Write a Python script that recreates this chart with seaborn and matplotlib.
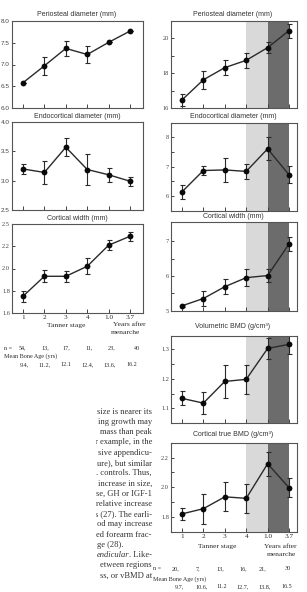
import matplotlib
matplotlib.use("Agg")
import matplotlib.pyplot as plt
from matplotlib.transforms import Bbox, TransformedBbox
import numpy as np
import seaborn as sns

# ---- data
stage = [0, 1, 2, 3, 4, 5]
stage_labels = ["1", "2", "3", "4", "1.0", "3.7"]

# left column (first study)
l_peri = [6.58, 6.97, 7.37, 7.23, 7.51, 7.77]
l_peri_se = [0.0, 0.20, 0.18, 0.19, 0.0, 0.0]
l_endo = [3.20, 3.14, 3.57, 3.19, 3.10, 2.99]
l_endo_se = [0.08, 0.20, 0.15, 0.26, 0.12, 0.08]
l_cort = [1.75, 1.93, 1.93, 2.02, 2.21, 2.29]
l_cort_se = [0.05, 0.055, 0.05, 0.07, 0.045, 0.04]
l_n = [54, 13, 17, 11, 23, 40]
l_age = ["9.4,", "11.2,", "12.1", "12.4,", "13.6,", "16.2"]

# right column (second study)
r_peri = [16.46, 17.62, 18.32, 18.74, 19.47, 20.45]
r_peri_se = [0.33, 0.50, 0.42, 0.44, 0.30, 0.40]
r_endo = [6.14, 6.87, 6.89, 6.84, 7.61, 6.72]
r_endo_se = [0.24, 0.17, 0.42, 0.25, 0.39, 0.29]
r_cort = [5.14, 5.35, 5.69, 5.95, 6.01, 6.92]
r_cort_se = [0.03, 0.22, 0.21, 0.25, 0.18, 0.20]
r_vbmd = [1.134, 1.118, 1.191, 1.198, 1.302, 1.316]
r_vbmd_se = [0.024, 0.036, 0.055, 0.048, 0.035, 0.033]
r_tbmd = [1.820, 1.855, 1.935, 1.925, 2.158, 1.996]
r_tbmd_se = [0.04, 0.10, 0.097, 0.097, 0.08, 0.065]
r_n = [20, 7, 13, 16, 21, 30]
r_age = ["9.7,", "10.6,", "11.2", "12.7,", "13.8,", "16.5"]

paragraph = ["size is nearer its", "ing growth may", "mass than peak",
             "r example, in the", "sive appendicu-", "ure), but similar",
             ". controls. Thus,", "increase in size,", "se, GH or IGF-1",
             "relative increase", "s (27). The earli-", "od may increase",
             "ed forearm frac-", "ge (28).", "endicular. Like-",
             "etween regions", "ss, or vBMD at"]

W, H = 307, 592
sns.set_style("ticks")
plt.rcParams['font.family'] = ['Liberation Sans', 'DejaVu Sans']
INK = "#2a2a2a"

fig = plt.figure(figsize=(W / 100, H / 100), dpi=100)


def rect(x0, y0, x1, y1):
    return [x0 / W, 1 - y1 / H, (x1 - x0) / W, (y1 - y0) / H]


def ftext(x, y, s, **kw):
    kw.setdefault("va", "center")
    kw.setdefault("color", INK)
    return fig.text(x / W, 1 - y / H, s, **kw)


def panel(box, y, se, ylim, major, labels, minor=None, xlim=(-0.51, 5.6),
          shade=False, ylab_family="Liberation Sans"):
    ax = fig.add_axes(rect(*box))
    if shade:
        ax.axvspan(3, 4, color="#d9d9d9", lw=0, zorder=0)
        ax.axvspan(4, 5, color="#6c6c6c", lw=0, zorder=0)
    ax.errorbar(stage, y, yerr=se, fmt="none", ecolor=INK, elinewidth=0.8,
                capsize=1.8, capthick=0.8, zorder=2)
    sns.lineplot(x=stage, y=y, ax=ax, color=INK, lw=1.0, marker="o",
                 markersize=4.2, markerfacecolor="#0a0a0a",
                 markeredgewidth=0, zorder=3)
    ax.set_xlim(*xlim)
    ax.set_ylim(*ylim)
    ax.set_xticks(stage)
    ax.set_xticklabels([])
    ax.set_yticks(major)
    ax.set_yticklabels(labels, fontsize=4.6, color="#444",
                       family=ylab_family)
    if minor is not None:
        ax.set_yticks(minor, minor=True)
    ax.tick_params(axis="both", which="both", direction="in", length=2.5,
                   width=0.7, color="#444", pad=1.5)
    ax.tick_params(axis="x", length=3)
    for sp in ax.spines.values():
        sp.set_color("#555")
        sp.set_linewidth(0.8)
    ax.set_xlabel("")
    ax.set_ylabel("")
    return ax


# ---- left column
panel((12, 21, 143, 108), l_peri, l_peri_se, (6.0, 8.0),
      [6.0, 6.5, 7.0, 7.5, 8.0], ["6.0", "6.5", "7.0", "7.5", "8.0"])
panel((12, 122, 143, 210), l_endo, l_endo_se, (2.5, 4.0),
      [2.5, 3.0, 3.5, 4.0], ["2.5", "3.0", "3.5", "4.0"])
axl3 = panel((12, 224, 143, 313), l_cort, l_cort_se, (1.6, 2.4),
             [1.6, 1.8, 2.0, 2.2, 2.4], ["1.6", "1.8", "2.0", "2.2", "2.5"],
             ylab_family="Liberation Serif")
axl3.set_xticklabels(stage_labels, fontsize=5.2, family="Liberation Serif",
                     color=INK)

# ---- right column
rx = (-0.51, 5.37)
panel((171, 21, 297, 108), r_peri, r_peri_se, (16, 21), [16, 18, 20],
      ["16", "18", "20"], minor=[17, 19], xlim=rx, shade=True,
      ylab_family="Liberation Serif")
panel((171, 122.7, 297, 210.7), r_endo, r_endo_se, (5.5, 8.5), [6, 7, 8],
      ["6", "7", "8"], minor=[6.5, 7.5], xlim=rx, shade=True,
      ylab_family="Liberation Serif")
panel((171, 222, 297, 310.7), r_cort, r_cort_se, (5, 7.55), [5, 6, 7],
      ["5", "6", "7"], minor=[5.5, 6.5], xlim=rx, shade=True,
      ylab_family="Liberation Serif")
panel((171, 335.7, 297, 423.3), r_vbmd, r_vbmd_se, (1.05, 1.345),
      [1.1, 1.2, 1.3], ["1.1", "1.2", "1.3"], minor=[1.15, 1.25], xlim=rx,
      shade=True, ylab_family="Liberation Serif")
axr5 = panel((171, 442.7, 297, 531.7), r_tbmd, r_tbmd_se, (1.7, 2.3),
             [1.8, 2.0, 2.2], ["1.8", "2.0", "2.2"], minor=[1.9, 2.1],
             xlim=rx, shade=True, ylab_family="Liberation Serif")
axr5.set_xticklabels(stage_labels, fontsize=5.2, family="Liberation Serif",
                     color=INK)

# ---- panel titles
tkw = dict(ha="center", fontsize=5.0, color="#333")
ftext(77, 15, "Periosteal diameter (mm)", **tkw)
ftext(77, 117, "Endocortical diameter (mm)", **tkw)
ftext(77, 218, "Cortical width (mm)", **tkw)
ftext(233, 15, "Periosteal diameter (mm)", **tkw)
ftext(233, 116, "Endocortical diameter (mm)", **tkw)
ftext(233, 217, "Cortical width (mm)", **tkw)
ftext(233, 327, "Volumetric BMD (g/cm\u00b3)", **tkw)
ftext(233, 435, "Cortical true BMD (g/cm\u00b3)", **tkw)

# ---- x axis captions and table rows
skw = dict(fontsize=5.4, family="Liberation Serif")
ftext(66, 325, "Tanner stage", ha="center", **skw)
ftext(129, 325, "Years after", ha="center", **skw)
ftext(125, 333, "menarche", ha="center", **skw)
ftext(217, 546.5, "Tanner stage", ha="center", **skw)
ftext(280, 546.5, "Years after", ha="center", **skw)
ftext(281, 555, "menarche", ha="center", **skw)

nkw = dict(fontsize=4.4, family="Liberation Serif")
l_nx = [22, 45, 66.5, 89, 111.5, 137.5]
l_ax = [24, 45, 66, 88, 110, 132]
ftext(4, 348, "n =", ha="left", **nkw)
for x, v in zip(l_nx, l_n):
    ftext(x, 348, f"{v}," if v != l_n[-1] else f"{v}", ha="center", **nkw)
ftext(4, 356, "Mean Bone Age (yrs)", ha="left", **nkw)
for x, v in zip(l_ax, l_age):
    ftext(x, 365, v, ha="center", **nkw)

r_nx = [176, 198, 220, 243, 263, 288]
r_ax = [179, 202, 222, 243, 265, 287]
ftext(153, 569, "n =", ha="left", **nkw)
for x, v in zip(r_nx, r_n):
    ftext(x, 569, f"{v}," if v != r_n[-1] else f"{v}", ha="center", **nkw)
ftext(153, 579, "Mean Bone Age (yrs)", ha="left", **nkw)
for x, v in zip(r_ax, r_age):
    ftext(x, 587, v, ha="center", **nkw)

# ---- cropped body text (left text column, cut at the page edge)
clip = TransformedBbox(Bbox([[96 / W, 0], [1, 1]]), fig.transFigure)
pkw = dict(fontsize=6.1, family="Liberation Serif", color="#333")
right_edge = 152
for i, line in enumerate(paragraph):
    y = 411.7 + i * 10.25
    if line == "ge (28).":
        parts = [ftext(97, y, line, ha="left", **pkw)]
    elif line.startswith("endicular"):
        parts = [ftext(97, y, "endicular", ha="left", style="italic", **pkw),
                 ftext(right_edge, y, ". Like-", ha="right", **pkw)]
    else:
        parts = [ftext(right_edge, y, line, ha="right", **pkw)]
    for t in parts:
        t.set_clip_box(clip)
        t.set_clip_on(True)

fig.savefig("out.png", dpi=100)
